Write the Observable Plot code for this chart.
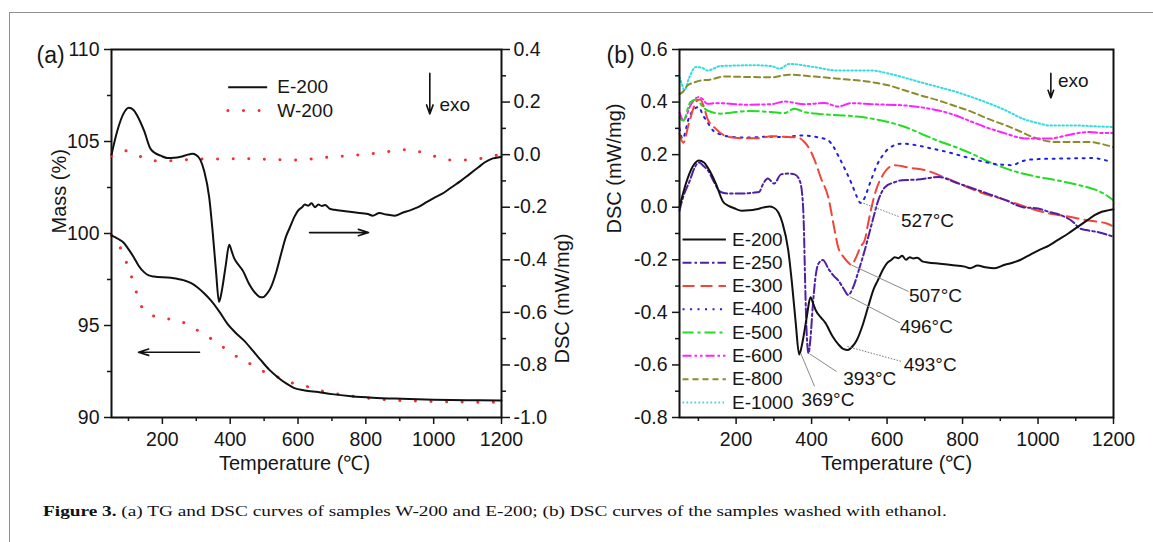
<!DOCTYPE html>
<html><head><meta charset="utf-8">
<script src="https://cdn.jsdelivr.net/npm/d3@7"></script>
<script src="https://cdn.jsdelivr.net/npm/@observablehq/plot@0.6"></script>
<style>
body{margin:0;background:#fff;width:1153px;height:542px;overflow:hidden;position:relative;font-family:"Liberation Sans",Arial,sans-serif}
#frame{position:absolute;left:9px;top:12px;width:1300px;height:700px;border:1.5px solid #8f8f8f;box-sizing:border-box}
.panel{position:absolute;top:0}
#caption{position:absolute;left:43px;top:503px;font-family:"Liberation Serif","Times New Roman",serif;font-size:15.5px;line-height:16px;white-space:nowrap;transform-origin:0 0;color:#111}
</style></head><body>
<div id="frame"></div>
<div id="pa" class="panel" style="left:0;width:580px;height:480px"></div>
<div id="pb" class="panel" style="left:580px;width:573px;height:480px"></div>
<div id="caption"><span id="capPrefix"><b>Figure 3.</b> (a) TG and DSC curves of samples W-200 and E</span>-200; (b) DSC curves of the samples washed with ethanol.</div>
<script>
// ---------- tick values ----------
const xMajor = [200, 400, 600, 800, 1000, 1200];
const xMinor = [100, 300, 500, 700, 900, 1100];
const massTicks = [90, 95, 100, 105, 110];
const massMinor = [92.5, 97.5, 102.5, 107.5];
const dscTicksA = [-1.0, -0.8, -0.6, -0.4, -0.2, 0.0, 0.2, 0.4];
const dscMinorA = [-0.9, -0.7, -0.5, -0.3, -0.1, 0.1, 0.3];
const dscTicksB = [-0.8, -0.6, -0.4, -0.2, 0.0, 0.2, 0.4, 0.6];
const dscMinorB = [-0.7, -0.5, -0.3, -0.1, 0.1, 0.3, 0.5];

// ---------- data: [temperature °C, value] ----------
const e200Mass = [[50,99.9],[70,99.7],[86,99.5],[100,99.15],[116,98.7],[130,98.25],[146,97.9],[160,97.72],[175,97.66],[225,97.59],[264,97.45],[285,97.3],[303,97.08],[323,96.75],[343,96.36],[368,95.75],[392,95.09],[415,94.62],[441,94.18],[466,93.65],[491,93.1],[515,92.6],[540,92.19],[565,91.85],[589,91.6],[620,91.47],[659,91.38],[700,91.27],[757,91.16],[820,91.08],[905,91.02],[1000,90.97],[1100,90.94],[1200,90.92]];
const w200Mass = [[50,99.9],[65,99.6],[82,98.98],[101,98.08],[116,97.27],[131,96.36],[141,95.95],[151,95.73],[170,95.55],[195,95.4],[244,95.31],[264,95.15],[284,94.95],[323,94.51],[363,94.06],[402,93.5],[446,93.06],[486,92.61],[530,92.28],[575,91.92],[624,91.7],[673,91.43],[720,91.27],[767,91.14],[866,90.96],[1003,90.87],[1100,90.84],[1200,90.82]];
const e200Dsc = [[50,0.0],[67,0.09],[85,0.155],[101,0.178],[115,0.17],[126,0.148],[146,0.091],[165,0.022],[180,0.005],[195,-0.004],[215,-0.013],[235,-0.012],[254,-0.008],[275,0.0],[288,0.003],[300,-0.002],[312,-0.02],[323,-0.061],[338,-0.162],[348,-0.289],[358,-0.441],[367,-0.56],[372,-0.54],[377,-0.505],[387,-0.42],[397,-0.343],[405,-0.37],[412,-0.395],[425,-0.42],[437,-0.441],[455,-0.49],[471,-0.522],[485,-0.54],[496,-0.543],[508,-0.53],[520,-0.505],[535,-0.45],[550,-0.378],[565,-0.31],[575,-0.28],[590,-0.235],[600,-0.213],[612,-0.2],[620,-0.19],[630,-0.194],[640,-0.185],[650,-0.2],[660,-0.19],[670,-0.195],[680,-0.192],[695,-0.207],[708,-0.21],[740,-0.215],[770,-0.22],[806,-0.226],[820,-0.232],[840,-0.222],[860,-0.228],[885,-0.232],[910,-0.22],[930,-0.212],[954,-0.2],[980,-0.18],[1000,-0.165],[1030,-0.145],[1053,-0.124],[1080,-0.1],[1105,-0.075],[1132,-0.048],[1150,-0.03],[1171,-0.016],[1185,-0.012],[1200,-0.008]];
const w200Dsc = [[50,-0.004],[70,0.01],[91,0.015],[110,0.005],[131,-0.004],[150,-0.018],[165,-0.023],[215,-0.023],[303,-0.017],[446,-0.016],[589,-0.02],[688,-0.01],[760,-0.003],[826,0.005],[880,0.014],[920,0.019],[964,0.009],[1000,-0.005],[1048,-0.02],[1090,-0.02],[1132,-0.016],[1176,-0.004],[1200,0.0]];
const e250Dsc = [[50,-0.013],[60,0.04],[77,0.1],[90,0.15],[101,0.17],[115,0.155],[126,0.139],[140,0.1],[159,0.058],[180,0.052],[221,0.052],[245,0.055],[261,0.058],[272,0.09],[284,0.109],[301,0.09],[319,0.125],[340,0.128],[355,0.125],[368,0.103],[375,0.05],[379,-0.05],[383,-0.29],[387,-0.48],[392,-0.555],[397,-0.5],[403,-0.38],[410,-0.27],[418,-0.215],[430,-0.201],[445,-0.235],[458,-0.26],[470,-0.277],[485,-0.31],[497,-0.334],[510,-0.305],[525,-0.24],[541,-0.163],[560,-0.06],[577,0.027],[595,0.077],[620,0.095],[639,0.103],[680,0.105],[737,0.115],[780,0.095],[826,0.072],[870,0.05],[914,0.027],[960,0.0],[1000,-0.005],[1030,-0.018],[1060,-0.03],[1093,-0.056],[1110,-0.08],[1128,-0.087],[1160,-0.095],[1186,-0.106],[1195,-0.11]];
const e300Dsc = [[50,0.28],[60,0.245],[75,0.32],[97,0.406],[105,0.41],[115,0.38],[124,0.337],[145,0.3],[181,0.267],[230,0.262],[260,0.262],[293,0.27],[330,0.268],[364,0.265],[381,0.248],[395,0.22],[408,0.179],[425,0.11],[444,0.039],[461,-0.087],[470,-0.15],[485,-0.19],[497,-0.21],[506,-0.22],[515,-0.2],[530,-0.15],[541,-0.125],[550,-0.06],[559,0.001],[572,0.07],[586,0.115],[600,0.145],[621,0.16],[660,0.15],[701,0.141],[750,0.115],[791,0.09],[850,0.055],[914,0.027],[970,0.0],[1030,-0.024],[1080,-0.035],[1130,-0.05],[1182,-0.062],[1195,-0.07]];
const e400Dsc = [[50,0.3],[58,0.26],[75,0.34],[90,0.375],[101,0.381],[112,0.35],[124,0.324],[140,0.29],[159,0.277],[200,0.266],[230,0.265],[280,0.268],[328,0.267],[373,0.273],[413,0.267],[444,0.254],[458,0.23],[470,0.198],[490,0.14],[506,0.09],[520,0.04],[530,0.016],[542,0.04],[551,0.077],[562,0.12],[573,0.16],[590,0.2],[604,0.223],[639,0.242],[680,0.235],[719,0.223],[760,0.21],[808,0.191],[850,0.175],[879,0.166],[905,0.162],[933,0.16],[950,0.17],[968,0.179],[1000,0.183],[1057,0.185],[1100,0.186],[1146,0.187],[1175,0.18],[1195,0.172]];
const e500Dsc = [[50,0.34],[60,0.33],[79,0.4],[95,0.41],[110,0.385],[124,0.368],[159,0.356],[200,0.362],[230,0.366],[293,0.362],[328,0.358],[355,0.375],[381,0.362],[420,0.355],[470,0.35],[520,0.345],[559,0.337],[600,0.325],[648,0.305],[701,0.273],[740,0.25],[781,0.229],[830,0.2],[871,0.172],[920,0.145],[959,0.128],[1000,0.115],[1048,0.103],[1090,0.09],[1128,0.077],[1160,0.062],[1181,0.046],[1199,0.027]];
const e600Dsc = [[50,0.36],[61,0.33],[80,0.39],[101,0.419],[112,0.41],[124,0.394],[150,0.396],[230,0.39],[293,0.392],[328,0.402],[381,0.392],[435,0.396],[470,0.383],[506,0.396],[559,0.392],[648,0.387],[700,0.378],[737,0.368],[780,0.35],[826,0.324],[870,0.3],[915,0.28],[950,0.265],[977,0.261],[1030,0.261],[1075,0.273],[1110,0.283],[1137,0.286],[1170,0.282],[1199,0.282]];
const e800Dsc = [[50,0.43],[60,0.44],[71,0.463],[90,0.475],[106,0.482],[130,0.485],[168,0.497],[248,0.495],[293,0.494],[341,0.504],[408,0.497],[470,0.489],[559,0.476],[600,0.465],[648,0.444],[690,0.425],[737,0.406],[780,0.385],[826,0.362],[870,0.335],[915,0.311],[950,0.29],[986,0.267],[1048,0.248],[1100,0.248],[1137,0.248],[1170,0.24],[1199,0.229]];
const e1000Dsc = [[50,0.495],[56,0.47],[63,0.444],[75,0.49],[93,0.533],[110,0.53],[124,0.52],[159,0.537],[248,0.54],[293,0.537],[315,0.527],[341,0.545],[399,0.535],[470,0.52],[559,0.52],[600,0.51],[648,0.492],[690,0.475],[737,0.457],[780,0.44],[826,0.418],[870,0.395],[915,0.368],[959,0.337],[1000,0.32],[1030,0.311],[1093,0.311],[1150,0.308],[1199,0.305]];

// peak annotations (panel b)
const peakLabels = ["527°C", "507°C", "496°C", "493°C", "393°C", "369°C"];
const peakT = [530, 506, 501, 495, 395, 371];
const peakV = [0.019, -0.22, -0.34, -0.53, -0.558, -0.555];

// ---------- styles / layout (kept separate from data) ----------
const seriesB = [
  {name: "E-200",  data: e200Dsc,  color: "#111111", dash: null},
  {name: "E-250",  data: e250Dsc,  color: "#4f1fa6", dash: "9,3,2.5,3"},
  {name: "E-300",  data: e300Dsc,  color: "#f2453a", dash: "12,6"},
  {name: "E-400",  data: e400Dsc,  color: "#2020dd", dash: "2,5.5"},
  {name: "E-500",  data: e500Dsc,  color: "#22dd22", dash: "11,4,3,4"},
  {name: "E-600",  data: e600Dsc,  color: "#ff22ff", dash: "9,3,2.5,3,2.5,3"},
  {name: "E-800",  data: e800Dsc,  color: "#8c8c2c", dash: "6,4"},
  {name: "E-1000", data: e1000Dsc, color: "#33dddd", dash: "1.6,2.4"}
];
// leader-line ends and label anchors in data units [T1, v1, Ttext, vtext]
const peakLayout = [[634,-0.037,637,-0.052],[657,-0.321,658,-0.337],[634,-0.44,634,-0.457],[639,-0.587,644,-0.6],[466,-0.625,484,-0.653],[408,-0.682,373,-0.733]];
const dottedLeaders = [0, 3];
const solidLeaders = [1, 2, 4, 5];

const FONT = "'Liberation Sans', Arial, sans-serif";
const baseStyle = {fontSize: "19.5px", fontFamily: FONT, background: "transparent", overflow: "visible", color: "#161616"};
const X = d => d[0], Y = d => d[1];
const lineOpts = (color, dash, w = 2) => Object.assign({x: X, y: Y, stroke: color, strokeWidth: w, curve: "monotone-x"}, dash ? {strokeDasharray: dash} : {});
const redDots = {stroke: "#ee3333", strokeWidth: 3, strokeDasharray: "0.1,15.5", strokeLinecap: "round"};

// ---------- panel (a): mass (left) ----------
const plotA1 = Plot.plot({
  width: 580, height: 480, marginLeft: 111, marginRight: 79, marginTop: 49, marginBottom: 63,
  style: baseStyle,
  x: {domain: [50, 1200]},
  y: {domain: [90, 110]},
  marks: [
    Plot.axisX({ticks: xMajor, tickSize: 7, tickPadding: 8, strokeWidth: 1.5, label: null, tickFormat: d => String(d)}),
    Plot.axisX({ticks: xMinor, tickSize: 4, strokeWidth: 1.5, label: null, tickFormat: () => ""}),
    Plot.axisY({ticks: massTicks, tickSize: 7, tickPadding: 5, strokeWidth: 1.5, label: null, tickFormat: d => String(d)}),
    Plot.axisY({ticks: massMinor, tickSize: 4, strokeWidth: 1.5, label: null, tickFormat: () => ""}),
    Plot.line(w200Mass, Object.assign({x: X, y: Y, curve: "monotone-x"}, redDots)),
    Plot.line(e200Mass, lineOpts("#111111", null, 2)),
    // legend
    Plot.link([0], {x1: 394, x2: 509, y1: 107.95, y2: 107.95, stroke: "#111", strokeWidth: 2}),
    Plot.link([0], Object.assign({x1: 393, x2: 510, y1: 106.68, y2: 106.68}, redDots)),
    Plot.text(["E-200", "W-200"], {x: 539, y: (d, i) => [107.95, 106.68][i], textAnchor: "start", fontSize: 19}),
    // exo arrow
    Plot.arrow([0], {x1: 988.6, x2: 988.6, y1: 108.7, y2: 106.5, strokeWidth: 1.6, headLength: 9, headAngle: 40, stroke: "#111"}),
    Plot.text(["exo"], {x: 1017, y: 107.0, textAnchor: "start", fontSize: 19}),
    // direction arrows
    Plot.arrow([0], {x1: 634, x2: 808, y1: 100.05, y2: 100.05, strokeWidth: 1.6, headLength: 10, headAngle: 35, stroke: "#111"}),
    Plot.arrow([0], {x1: 309.5, x2: 129.6, y1: 93.55, y2: 93.55, strokeWidth: 1.6, headLength: 10, headAngle: 35, stroke: "#111"}),
    // labels
    Plot.text(["(a)"], {frameAnchor: "top-left", dx: -75, dy: 6, textAnchor: "start", lineAnchor: "middle", fontSize: 23}),
    Plot.text(["Mass (%)"], {frameAnchor: "left", dx: -52, rotate: -90, lineAnchor: "middle", fontSize: 20}),
    Plot.text(["Temperature (℃)"], {frameAnchor: "bottom", dy: 46, dx: -12, lineAnchor: "middle", fontSize: 20}),
    Plot.frame({strokeWidth: 2, stroke: "#111"})
  ]
});

// ---------- panel (a): DSC (right) ----------
const plotA2 = Plot.plot({
  width: 580, height: 480, marginLeft: 111, marginRight: 79, marginTop: 49, marginBottom: 63,
  style: baseStyle,
  x: {domain: [50, 1200], axis: null},
  y: {domain: [-1.0, 0.4]},
  marks: [
    Plot.axisY({anchor: "right", ticks: dscTicksA, tickSize: 8, tickPadding: 4, strokeWidth: 1.5, label: null, tickFormat: d => d.toFixed(1)}),
    Plot.axisY({anchor: "right", ticks: dscMinorA, tickSize: 4, strokeWidth: 1.5, label: null, tickFormat: () => ""}),
    Plot.line(w200Dsc, Object.assign({x: X, y: Y, curve: "monotone-x"}, redDots)),
    Plot.line(e200Dsc, lineOpts("#111111", null, 2)),
    Plot.text(["DSC (mW/mg)"], {frameAnchor: "right", dx: 61, rotate: -90, lineAnchor: "middle", fontSize: 20})
  ]
});

// ---------- panel (b) ----------
const legendT1 = 58, legendT2 = 173, legendTextT = 189, legendV0 = -0.1225, legendStep = 0.0886;
const marksB = [
  Plot.axisX({ticks: xMajor, tickSize: 7, tickPadding: 8, strokeWidth: 1.5, label: null, tickFormat: d => String(d)}),
  Plot.axisX({ticks: xMinor, tickSize: 4, strokeWidth: 1.5, label: null, tickFormat: () => ""}),
  Plot.axisY({ticks: dscTicksB, tickSize: 7, tickPadding: 5, strokeWidth: 1.5, label: null, tickFormat: d => d.toFixed(1)}),
  Plot.axisY({ticks: dscMinorB, tickSize: 4, strokeWidth: 1.5, label: null, tickFormat: () => ""})
];
[...seriesB].reverse().forEach(s => marksB.push(Plot.line(s.data, lineOpts(s.color, s.dash, 2))));
seriesB.forEach((s, i) => {
  const v = legendV0 - i * legendStep;
  marksB.push(Plot.link([0], Object.assign({x1: legendT1, x2: legendT2, y1: v, y2: v, stroke: s.color, strokeWidth: 2}, s.dash ? {strokeDasharray: s.dash} : {})));
});
marksB.push(
  Plot.text(seriesB, {x: legendTextT, y: (d, i) => legendV0 - i * legendStep, text: d => d.name, textAnchor: "start", fontSize: 19}),
  Plot.link(dottedLeaders, {x1: i => peakT[i], y1: i => peakV[i], x2: i => peakLayout[i][0], y2: i => peakLayout[i][1], stroke: "#777", strokeWidth: 1, strokeDasharray: "1.5,1.5"}),
  Plot.link(solidLeaders, {x1: i => peakT[i], y1: i => peakV[i], x2: i => peakLayout[i][0], y2: i => peakLayout[i][1], stroke: "#8a8a8a", strokeWidth: 1}),
  Plot.text(d3.range(peakLabels.length), {x: i => peakLayout[i][2], y: i => peakLayout[i][3], text: i => peakLabels[i], textAnchor: "start", fontSize: 19}),
  Plot.arrow([0], {x1: 1034, x2: 1034, y1: 0.509, y2: 0.416, strokeWidth: 1.6, headLength: 9, headAngle: 40, stroke: "#111"}),
  Plot.text(["exo"], {x: 1053, y: 0.482, textAnchor: "start", fontSize: 19}),
  Plot.text(["(b)"], {frameAnchor: "top-left", dx: -73, dy: 6, textAnchor: "start", lineAnchor: "middle", fontSize: 23}),
  Plot.text(["DSC (mW/mg)"], {frameAnchor: "left", dx: -65, rotate: -90, lineAnchor: "middle", fontSize: 20}),
  Plot.text(["Temperature (℃)"], {frameAnchor: "bottom", dy: 46, lineAnchor: "middle", fontSize: 20}),
  Plot.frame({strokeWidth: 2, stroke: "#111"})
);
const plotB = Plot.plot({
  width: 573, height: 480, marginLeft: 99, marginRight: 40, marginTop: 49, marginBottom: 63,
  style: baseStyle,
  x: {domain: [50, 1200]},
  y: {domain: [-0.8, 0.6]},
  marks: marksB
});

const pa = document.getElementById("pa");
[plotA1, plotA2].forEach(p => { p.style.position = "absolute"; p.style.left = "0"; p.style.top = "0"; pa.appendChild(p); });
document.getElementById("pb").appendChild(plotB);

// fit caption width
const cap = document.getElementById("caption");
const pre = document.getElementById("capPrefix");
const w = pre.getBoundingClientRect().width;
if (w > 0) cap.style.transform = `scaleX(${454 / w})`;
</script>
</body></html>
